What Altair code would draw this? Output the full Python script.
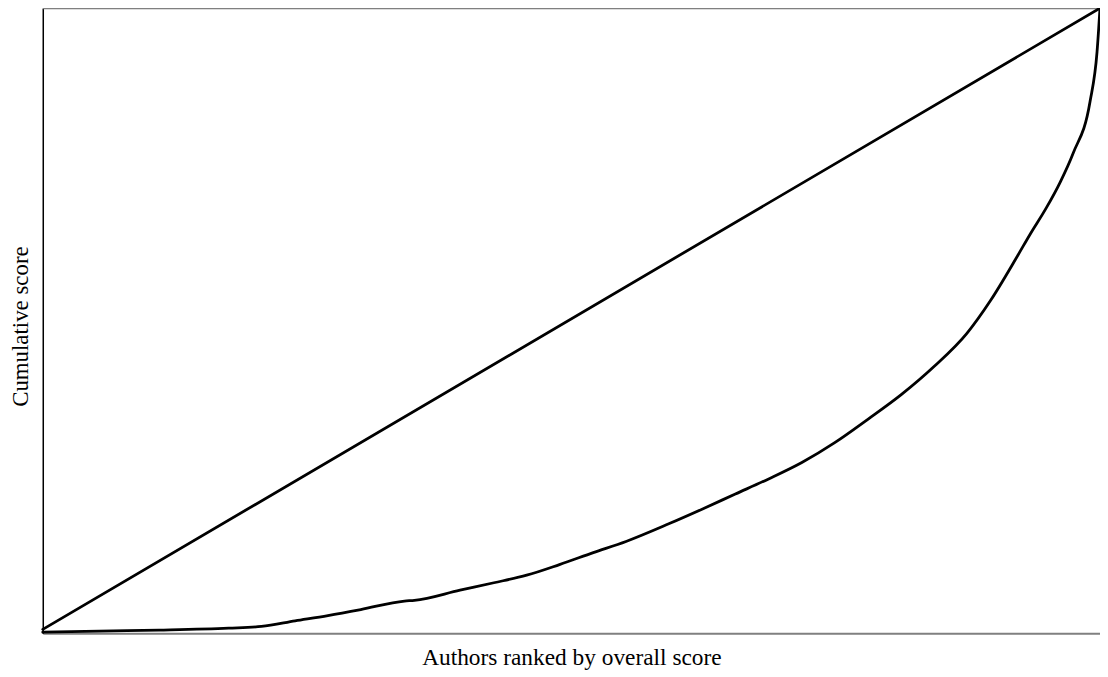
import altair as alt
import pandas as pd

# Lorenz curve: share of authors (ranked) vs cumulative share of score
rank_share = [0.0, 0.0536, 0.1100, 0.1758, 0.2068, 0.2387, 0.2697, 0.3008, 0.3421,
              0.3515, 0.3947, 0.4267, 0.4577, 0.4887, 0.5207, 0.5517, 0.5921,
              0.6241, 0.6551, 0.6861, 0.7180, 0.7491, 0.7801, 0.8120, 0.8430,
              0.8741, 0.8966, 0.9211, 0.9342, 0.9492, 0.9624, 0.9746, 0.9906,
              0.9972, 1.0]
cum_share = [0.0016, 0.0032, 0.0048, 0.0079, 0.0107, 0.0196, 0.0281, 0.0377, 0.0514,
             0.0525, 0.0688, 0.0806, 0.0927, 0.1097, 0.1288, 0.1467, 0.1749,
             0.1987, 0.2226, 0.2464, 0.2730, 0.3048, 0.3418, 0.3816, 0.4266,
             0.4797, 0.5326, 0.6010, 0.6391, 0.6804, 0.7218, 0.7679, 0.8506,
             0.9300, 1.0]

equal_x = [0.0, 1.0]
equal_y = [0.006, 1.0]

curve = pd.DataFrame({"x": rank_share, "y": cum_share})
equal = pd.DataFrame({"x": equal_x, "y": equal_y})

xscale = alt.Scale(domain=[0, 1], nice=False, zero=False)
yscale = alt.Scale(domain=[0, 1], nice=False, zero=False)

xaxis = alt.Axis(title="Authors ranked by overall score", labels=False, ticks=False,
                 grid=False, domainColor="#808080", domainWidth=2,
                 titleFont="Liberation Serif", titleFontSize=23.5, titleFontWeight="normal",
                 titleColor="#000000", titleBaseline="alphabetic", titleY=32)
yaxis = alt.Axis(title="Cumulative score", labels=False, ticks=False,
                 grid=False, domainColor="#000000", domainWidth=1.5,
                 titleFont="Liberation Serif", titleFontSize=23, titleFontWeight="normal",
                 titleColor="#000000", titleBaseline="alphabetic", titleX=-15, titleY=320,
                 titleAngle=270)

lorenz = alt.Chart(curve).mark_line(color="#000000", strokeWidth=2.8, interpolate="monotone",
                                    strokeJoin="round", strokeCap="round").encode(
    x=alt.X("x:Q", scale=xscale, axis=xaxis),
    y=alt.Y("y:Q", scale=yscale, axis=yaxis),
    order="x:Q",
)

diag = alt.Chart(equal).mark_line(color="#000000", strokeWidth=2.8,
                                  strokeCap="round").encode(
    x=alt.X("x:Q", scale=xscale),
    y=alt.Y("y:Q", scale=yscale),
)

top = alt.Chart(pd.DataFrame({"y": [1.0]})).mark_rule(color="#808080", strokeWidth=2).encode(
    y=alt.Y("y:Q", scale=yscale),
)

chart = alt.layer(top, diag, lorenz).properties(
    width=1064, height=629,
    autosize=alt.AutoSizeParams(type="none"),
    padding={"left": 35, "top": -2, "right": 0, "bottom": 42},
).configure_view(stroke=None).configure(background="#ffffff")

chart.save("out.html", embed_options={"renderer": "svg", "actions": False})
